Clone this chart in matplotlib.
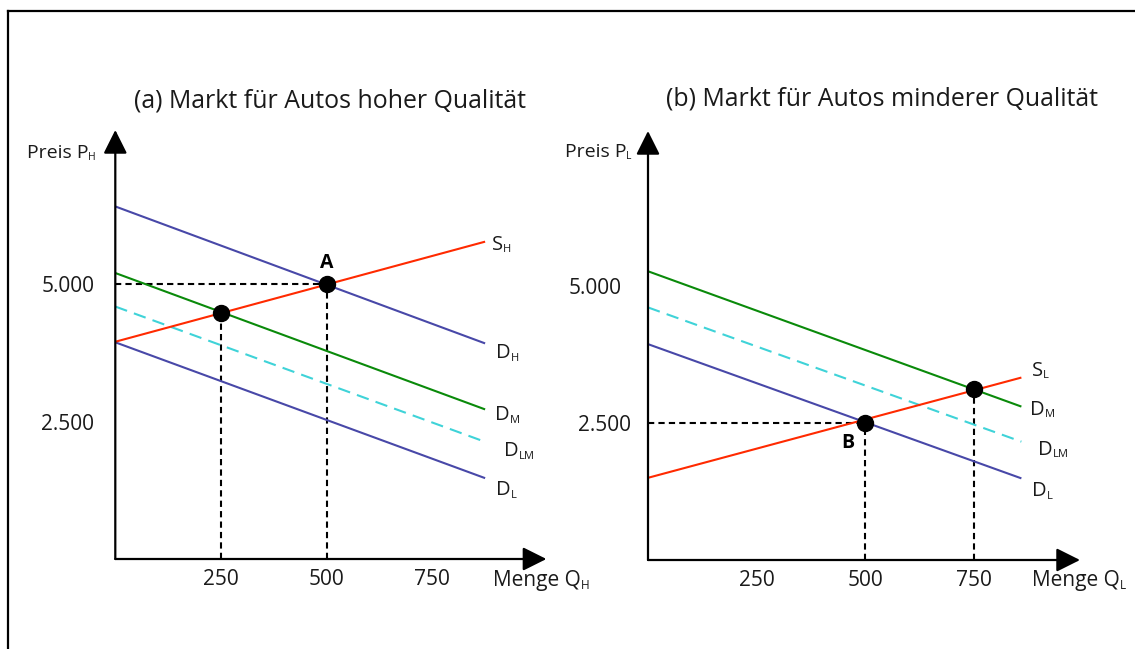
import matplotlib
matplotlib.use('Agg')
import matplotlib.pyplot as plt
from matplotlib.lines import Line2D
from matplotlib.transforms import ScaledTranslation

plt.rcParams['font.family'] = ['Open Sans', 'DejaVu Sans']

# quantity range over which the curves are drawn (start, end)
q_span_a = [0, 875]
q_span_b = [0, 860]

# panel (a): price at start and end of each curve
d_h = [6410, 3920]
s_h = [3950, 5770]
d_m_a = [5200, 2720]
d_lm_a = [4590, 2130]
d_l_a = [3940, 1470]

# panel (b)
d_m_b = [5270, 2800]
d_lm_b = [4610, 2160]
d_l_b = [3940, 1490]
s_l = [1500, 3330]

# market points
pts_a_q = [250, 500]
pts_a_p = [4480, 5000]
pts_b_q = [500, 750]
pts_b_p = [2500, 3115]

q_ticks = [250, 500, 750]
q_tick_labels = ['250', '500', '750']
p_ticks = [2500, 5000]
p_tick_labels = ['2.500', '5.000']

BLUE = '#4848a8'
RED = '#ff2a00'
GREEN = '#0a8a0a'
CYAN = '#3fd3d8'
TXT = '#1a1a1a'

W, H = 1135, 649
fig = plt.figure(figsize=(W / 100, H / 100), dpi=100)


def px_axes(x0, y0, x1, y1):
    # box in pixels, measured from the top left corner
    return fig.add_axes([x0 / W, 1 - y1 / H, (x1 - x0) / W, (y1 - y0) / H])


def sub_text(ax, main, sub, xy, xycoords='data', off=(0, 0), size=14, sub_size=8, sub_dy=2.2):
    # letter with a small index set after it, baseline anchored
    t = ax.annotate(main, xy=xy, xycoords=xycoords, xytext=off, textcoords='offset pixels',
                    fontsize=size, color=TXT, ha='left', va='baseline', annotation_clip=False)
    ax.annotate(sub, xy=(1, 0), xycoords=t, xytext=(-0.3, sub_dy), textcoords='offset pixels',
                fontsize=sub_size, color=TXT, ha='left', va='baseline', annotation_clip=False)
    return t


def setup(ax, xmax, ymax, ypad):
    ax.set_xlim(0, xmax)
    ax.set_ylim(0, ymax)
    for s in ax.spines.values():
        s.set_visible(False)
    ax.patch.set_visible(False)
    ax.set_xticks(q_ticks, q_tick_labels)
    ax.set_yticks(p_ticks, p_tick_labels)
    ax.tick_params(length=0, labelsize=15, labelcolor=TXT)
    ax.tick_params(axis='x', pad=7)
    ax.tick_params(axis='y', pad=ypad)
    arrow = dict(arrowstyle='-|>,head_length=1.0,head_width=0.5', mutation_scale=14.5,
                 color='black', lw=1.6, shrinkA=0, shrinkB=0)
    ax.annotate('', xy=(0, ymax), xytext=(0, 0), arrowprops=arrow, annotation_clip=False)
    ax.annotate('', xy=(xmax, 0), xytext=(0, 0), arrowprops=arrow, annotation_clip=False)


def curve(ax, q, p, color, main, sub, off, dashed=False):
    if dashed:
        ax.plot(q, p, color=color, lw=1.5, dashes=(6, 3.5))
    else:
        ax.plot(q, p, color=color, lw=1.5, solid_capstyle='butt')
    sub_text(ax, main, sub, (q[1], p[1]), off=off, size=14.5, sub_size=8)


dash_kw = dict(color='black', lw=1.5, dashes=(3, 2))

# ---- (a) high quality market
ax_a = px_axes(115.3, 130, 546.4, 559)
setup(ax_a, 1020, 7800, 15)

ax_a.plot([0, pts_a_q[1]], [pts_a_p[1], pts_a_p[1]], **dash_kw)
for q, p in zip(pts_a_q, pts_a_p):
    ax_a.plot([q, q], [0, p], **dash_kw)

curve(ax_a, q_span_a, d_h, BLUE, 'D', 'H', (11, -15))
curve(ax_a, q_span_a, d_m_a, GREEN, 'D', 'M', (10, -11))
curve(ax_a, q_span_a, d_lm_a, CYAN, 'D', 'LM', (19, -14), dashed=True)
curve(ax_a, q_span_a, d_l_a, BLUE, 'D', 'L', (11, -17))
curve(ax_a, q_span_a, s_h, RED, 'S', 'H', (7, -8))

ax_a.plot(pts_a_q, pts_a_p, 'o', color='black', ms=11.5, zorder=5)
ax_a.annotate('A', xy=(pts_a_q[1], pts_a_p[1]), xytext=(0, 16), textcoords='offset pixels',
              fontsize=14, fontweight='bold', ha='center', va='baseline')

# ---- (b) low quality market
ax_b = px_axes(648, 131, 1080, 560)
setup(ax_b, 995, 7830, 12)

ax_b.plot([0, pts_b_q[0]], [pts_b_p[0], pts_b_p[0]], **dash_kw)
for q, p in zip(pts_b_q, pts_b_p):
    ax_b.plot([q, q], [0, p], **dash_kw)

curve(ax_b, q_span_b, d_m_b, GREEN, 'D', 'M', (9, -8))
curve(ax_b, q_span_b, d_lm_b, CYAN, 'D', 'LM', (17, -13), dashed=True)
curve(ax_b, q_span_b, d_l_b, BLUE, 'D', 'L', (11, -18))
curve(ax_b, q_span_b, s_l, RED, 'S', 'L', (11, 2))

ax_b.plot(pts_b_q, pts_b_p, 'o', color='black', ms=11.5, zorder=5)
ax_b.annotate('B', xy=(pts_b_q[0], pts_b_p[0]), xytext=(-17, -25), textcoords='offset pixels',
              fontsize=14, fontweight='bold', ha='center', va='baseline')

# upper price label sits a bit further out in (b)
for lab in ax_b.get_yticklabels():
    if lab.get_text() == '5.000':
        lab.set_transform(lab.get_transform() + ScaledTranslation(-0.10, 0, fig.dpi_scale_trans))

# ---- titles and axis names (pixel positions from top left)
fig.text(330 / W, 1 - 107 / H, '(a) Markt für Autos hoher Qualität', fontsize=17.9,
         color=TXT, ha='center', va='baseline')
fig.text(882 / W, 1 - 106 / H, '(b) Markt für Autos minderer Qualität', fontsize=17.9,
         color=TXT, ha='center', va='baseline')

sub_text(ax_a, 'Preis P', 'H', (27, H - 158), xycoords='figure pixels', size=14, sub_size=7.5)
sub_text(ax_b, 'Preis P', 'L', (565, H - 157), xycoords='figure pixels', size=14, sub_size=7.5)
sub_text(ax_a, 'Menge Q', 'H', (493, H - 586), xycoords='figure pixels', size=15, sub_size=8.5)
sub_text(ax_b, 'Menge Q', 'L', (1032, H - 586), xycoords='figure pixels', size=15, sub_size=8.5)

# outer frame: top and left edges only
fig.add_artist(Line2D([8 / W, 1], [1 - 11 / H, 1 - 11 / H], color='black', lw=1.6))
fig.add_artist(Line2D([8 / W, 8 / W], [0, 1 - 11 / H], color='black', lw=1.6))

fig.savefig('out.png', dpi=100)
